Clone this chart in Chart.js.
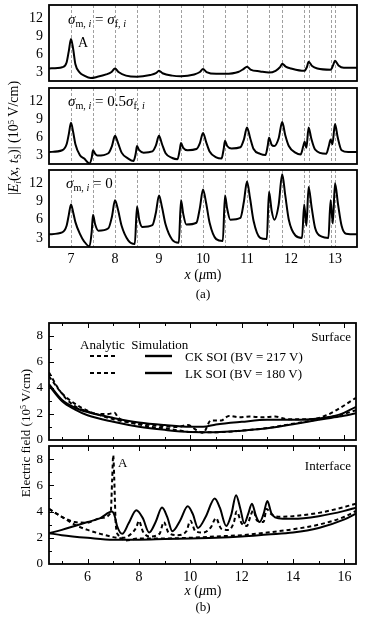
<!DOCTYPE html>
<html lang="en">
<head>
<meta charset="UTF-8" />
<title>Electric field profiles</title>
<script src="https://cdn.jsdelivr.net/npm/chart.js"></script>
<style>
  body { margin: 0; background: #fff; }
  #wrap { position: relative; width: 369px; height: 623px; overflow: hidden;
          font-family: 'Liberation Serif', 'Times New Roman', serif; color: #000; }
  canvas { position: absolute; left: 0; }
  .t { position: absolute; white-space: nowrap; line-height: 1; transform: translateY(-50%); }
  .c { position: absolute; white-space: nowrap; line-height: 1; transform: translate(-50%, -50%); }
  .r { position: absolute; white-space: nowrap; line-height: 1; transform: translate(-50%, -50%) rotate(-90deg); }
  sub { font-size: 68%; vertical-align: -0.3em; line-height: 0; }
  sup { font-size: 62%; vertical-align: 0.45em; line-height: 0; }
</style>
</head>
<body>
<div id="wrap">
  <canvas id="a1"></canvas>
  <canvas id="a2"></canvas>
  <canvas id="a3"></canvas>
  <canvas id="b1"></canvas>
  <canvas id="b2"></canvas>

  <!-- panel (a) texts -->
  <div class="r" style="left:14px; top:138px; font-size:14px;">|<i>E</i><sub><i>i</i></sub>(<i>x</i>, <i>t</i><sub>S</sub>)| (10<sup>5</sup> V/cm)</div>
  <div class="t" style="left:68px; top:19px; font-size:15px;"><i>σ</i><sub>m, <i>i</i></sub> = <i>σ</i><sub>f, <i>i</i></sub></div>
  <div class="t" style="left:78px; top:43px; font-size:14px;">A</div>
  <div class="t" style="left:68px; top:101px; font-size:15px;"><i>σ</i><sub>m, <i>i</i></sub> = 0.5<i>σ</i><sub>f, <i>i</i></sub></div>
  <div class="t" style="left:66px; top:183px; font-size:15px;"><i>σ</i><sub>m, <i>i</i></sub> = 0</div>
  <div class="c" style="left:203px; top:275px; font-size:14px;"><i>x</i> (<i>μ</i>m)</div>
  <div class="c" style="left:203px; top:293px; font-size:13px;">(a)</div>

  <!-- panel (b) texts -->
  <div class="r" style="left:25px; top:433px; font-size:13px;">Electric field (10<sup>5</sup> V/cm)</div>
  <div class="t" style="right:18px; top:336px; font-size:13px;">Surface</div>
  <div class="t" style="right:18px; top:465px; font-size:13px;">Interface</div>
  <div class="t" style="left:118px; top:462px; font-size:13px;">A</div>
  <div class="t" style="left:80px; top:344px; font-size:13px;">Analytic&nbsp; Simulation</div>
  <div class="t" style="left:185px; top:356px; font-size:13px;">CK SOI (BV = 217 V)</div>
  <div class="t" style="left:185px; top:373px; font-size:13px;">LK SOI (BV = 180 V)</div>
  <svg style="position:absolute; left:85px; top:348px;" width="95" height="32">
    <line x1="5" y1="8" x2="30" y2="8" stroke="#000" stroke-width="2.2" stroke-dasharray="4,3"/>
    <line x1="60" y1="8" x2="87" y2="8" stroke="#000" stroke-width="2.4"/>
    <line x1="5" y1="25" x2="30" y2="25" stroke="#000" stroke-width="2.2" stroke-dasharray="4,3"/>
    <line x1="60" y1="25" x2="87" y2="25" stroke="#000" stroke-width="2.4"/>
  </svg>
  <div class="c" style="left:203px; top:591px; font-size:14px;"><i>x</i> (<i>μ</i>m)</div>
  <div class="c" style="left:203px; top:606px; font-size:13px;">(b)</div>
</div>

<script>
// ---- panel (a): |E_i(x, t_S)| for three sigma_m settings ----
const aTicksX = [7, 8, 9, 10, 11, 12, 13];
const aTicksY = [3, 6, 9, 12];
const aGuides = [7, 7.5, 8, 8.5, 9, 9.5, 10, 10.5, 11, 11.5, 11.8, 12.3, 12.4, 12.9, 13.0];

const a1X = [6.5, 6.8, 6.9, 6.95, 7.0, 7.05, 7.1, 7.2, 7.3, 7.45, 7.6, 7.8, 7.92, 8.0, 8.08, 8.25, 8.5, 8.8, 8.93, 9.0, 9.08, 9.3, 9.5, 9.8, 9.93, 10.0, 10.08, 10.3, 10.5, 10.8, 10.92, 11.0, 11.08, 11.3, 11.5, 11.65, 11.75, 11.8, 11.88, 12.0, 12.3, 12.36, 12.4, 12.48, 12.6, 12.9, 12.96, 13.0, 13.08, 13.2, 13.5];
const a1Y = [3.6, 3.8, 4.6, 6.5, 8.5, 6.8, 4.3, 2.9, 2.4, 2.0, 2.2, 2.6, 3.0, 3.6, 3.0, 2.4, 2.2, 2.5, 2.8, 3.2, 2.8, 2.4, 2.3, 2.6, 3.0, 3.5, 3.0, 2.7, 2.7, 3.0, 3.5, 3.9, 3.4, 3.1, 2.9, 3.2, 3.8, 4.4, 3.9, 3.6, 3.2, 3.8, 4.7, 4.0, 3.6, 3.4, 4.2, 4.9, 4.1, 3.7, 3.7];

const a2X = [6.5, 6.8, 6.9, 6.95, 7.0, 7.05, 7.1, 7.2, 7.3, 7.42, 7.47, 7.5, 7.55, 7.6, 7.85, 7.93, 8.0, 8.07, 8.15, 8.3, 8.42, 8.47, 8.5, 8.55, 8.65, 8.85, 8.93, 9.0, 9.07, 9.15, 9.3, 9.42, 9.47, 9.5, 9.55, 9.65, 9.85, 9.93, 10.0, 10.07, 10.15, 10.3, 10.42, 10.47, 10.5, 10.55, 10.65, 10.85, 10.93, 11.0, 11.07, 11.15, 11.3, 11.42, 11.47, 11.5, 11.56, 11.62, 11.72, 11.8, 11.87, 11.95, 12.1, 12.22, 12.28, 12.31, 12.35, 12.4, 12.46, 12.55, 12.8, 12.86, 12.9, 12.94, 13.0, 13.06, 13.15, 13.3, 13.5];
const a2Y = [3.5, 3.8, 4.8, 6.5, 8.4, 6.8, 4.8, 3.0, 2.4, 1.6, 2.5, 3.8, 3.2, 2.9, 3.3, 4.5, 6.2, 5.0, 3.4, 2.4, 2.0, 3.2, 4.5, 3.8, 3.4, 3.6, 4.6, 6.2, 4.8, 3.3, 2.5, 2.3, 3.8, 5.0, 4.2, 3.8, 4.0, 5.0, 6.7, 5.2, 3.6, 2.6, 2.4, 4.0, 5.4, 4.5, 4.1, 4.3, 5.6, 7.6, 5.9, 4.0, 3.2, 3.0, 4.5, 5.9, 4.7, 4.5, 5.8, 8.5, 6.3, 4.5, 3.4, 3.1, 4.5, 5.2, 4.2, 7.6, 5.8, 3.9, 3.2, 4.5, 5.6, 4.8, 8.2, 6.0, 3.8, 3.5, 3.5];

const a3X = [6.5, 6.8, 6.9, 6.95, 7.0, 7.05, 7.1, 7.2, 7.3, 7.42, 7.47, 7.5, 7.55, 7.62, 7.85, 7.93, 8.0, 8.07, 8.15, 8.3, 8.45, 8.5, 8.55, 8.62, 8.85, 8.93, 9.0, 9.07, 9.15, 9.3, 9.45, 9.5, 9.55, 9.62, 9.85, 9.93, 10.0, 10.07, 10.15, 10.3, 10.45, 10.5, 10.55, 10.62, 10.85, 10.93, 11.0, 11.07, 11.15, 11.3, 11.45, 11.5, 11.56, 11.62, 11.72, 11.8, 11.87, 11.95, 12.1, 12.25, 12.3, 12.35, 12.4, 12.47, 12.55, 12.7, 12.85, 12.9, 12.95, 13.0, 13.07, 13.15, 13.25, 13.5];
const a3Y = [3.6, 3.9, 5.0, 6.8, 8.5, 7.2, 5.6, 3.7, 2.4, 1.6, 4.0, 6.8, 5.2, 4.2, 4.6, 6.5, 9.2, 7.6, 5.0, 2.6, 2.0, 8.2, 6.0, 4.8, 5.1, 7.2, 10.0, 8.0, 5.2, 2.7, 2.2, 9.2, 7.0, 5.2, 5.5, 8.0, 11.0, 8.8, 5.5, 2.8, 2.5, 10.0, 7.8, 6.0, 6.3, 9.0, 12.3, 9.5, 5.8, 3.0, 2.8, 10.6, 7.5, 6.0, 8.5, 13.5, 10.0, 6.0, 3.4, 3.0, 8.5, 5.0, 11.4, 8.0, 4.6, 3.2, 3.0, 9.2, 5.4, 12.0, 8.5, 5.0, 3.7, 3.6];

// ---- panel (b): analytic vs simulation, surface and interface ----
const bTicksX = [6, 8, 10, 12, 14, 16];
const bTicksY = [0, 2, 4, 6, 8];
const bMarksX = [5, 6, 7, 8, 9, 10, 11, 12, 13, 14, 15, 16];
const bMarksY = [1, 2, 3, 4, 5, 6, 7, 8];

const surfCkSimX = [4.5, 5, 5.5, 6, 7, 8, 9, 10, 10.5, 11, 12, 13, 14, 15, 15.8, 16.45];
const surfCkSimY = [4.3, 3.1, 2.5, 2.15, 1.7, 1.35, 1.15, 1.02, 1.02, 1.2, 1.4, 1.55, 1.55, 1.65, 1.95, 2.55];
const surfLkSimX = [4.5, 5, 5.5, 6, 7, 8, 9, 10, 11, 12, 13, 14, 15, 15.8, 16.45];
const surfLkSimY = [4.2, 3.0, 2.35, 1.9, 1.4, 1.02, 0.78, 0.62, 0.6, 0.72, 0.9, 1.22, 1.55, 1.8, 2.05];
const surfCkAnaX = [4.5, 4.85, 5.2, 5.6, 6, 6.4, 6.8, 7.05, 7.2, 7.8, 8.3, 9.0, 9.5, 9.9, 10.25, 10.5, 10.8, 11.2, 11.5, 11.9, 12.3, 12.8, 13.3, 13.8, 14.3, 14.7, 15.3, 15.9, 16.45];
const surfCkAnaY = [5.2, 4.0, 3.1, 2.5, 2.2, 2.0, 2.0, 2.1, 1.7, 1.3, 1.2, 1.05, 1.0, 1.15, 0.75, 0.55, 1.5, 1.5, 1.85, 1.75, 1.8, 1.75, 1.8, 1.6, 1.6, 1.6, 1.9, 2.55, 3.25];
const surfLkAnaX = [4.5, 5, 5.5, 6, 6.5, 7, 7.5, 8, 8.5, 9, 9.5, 10, 11, 12, 13, 14, 15, 15.8, 16.45];
const surfLkAnaY = [4.9, 3.6, 2.8, 2.25, 1.9, 1.6, 1.4, 1.2, 1.0, 0.9, 0.75, 0.62, 0.6, 0.72, 0.92, 1.25, 1.6, 1.9, 2.3];

const intCkSimX = [4.5, 5, 5.5, 6, 6.5, 6.95, 7.05, 7.15, 7.35, 7.6, 7.9, 8.15, 8.4, 8.65, 8.9, 9.1, 9.3, 9.6, 9.9, 10.1, 10.3, 10.6, 10.95, 11.15, 11.4, 11.6, 11.78, 11.95, 12.1, 12.25, 12.4, 12.55, 12.7, 12.85, 13.0, 13.15, 13.3, 13.6, 14, 15, 16, 16.45];
const intCkSimY = [2.35, 2.6, 2.9, 3.2, 3.5, 4.0, 3.7, 2.9, 2.3, 3.1, 4.1, 3.5, 2.4, 3.2, 4.3, 3.6, 2.5, 3.3, 4.4, 3.8, 2.75, 3.6, 5.0, 4.3, 2.9, 3.8, 5.25, 4.2, 3.1, 3.8, 4.6, 3.7, 3.2, 3.8, 4.8, 3.9, 3.55, 3.45, 3.45, 3.65, 4.05, 4.3];
const intLkSimX = [4.5, 5, 6, 7, 8, 9, 10, 11, 12, 13, 14, 15, 16, 16.45];
const intLkSimY = [2.35, 2.2, 2.0, 1.85, 1.85, 1.9, 1.95, 2.0, 2.1, 2.25, 2.4, 2.75, 3.4, 3.85];
const intCkAnaX = [4.5, 5, 5.5, 6, 6.5, 6.9, 6.96, 7.0, 7.04, 7.1, 7.2, 7.4, 7.7, 7.9, 8.0, 8.15, 8.4, 8.8, 8.97, 9.15, 9.5, 9.85, 10.0, 10.2, 10.5, 10.8, 11.0, 11.2, 11.5, 11.7, 11.8, 12.0, 12.2, 12.35, 12.45, 12.6, 12.85, 12.97, 13.15, 13.5, 14, 15, 16, 16.45];
const intCkAnaY = [4.2, 3.6, 3.2, 3.15, 3.5, 3.9, 6.5, 8.3, 6.5, 3.0, 2.2, 2.0, 2.3, 2.8, 3.3, 2.5, 2.1, 2.3, 3.2, 2.4, 2.2, 2.5, 3.3, 2.5, 2.4, 2.8, 3.5, 2.7, 2.6, 3.2, 4.0, 3.1, 2.9, 3.7, 4.1, 3.3, 3.2, 4.2, 3.8, 3.6, 3.65, 3.9, 4.35, 4.6];
const intLkAnaX = [4.5, 5, 5.5, 6, 6.5, 7, 7.3, 7.5, 8, 9, 10, 11, 12, 13, 14, 15, 16, 16.45];
const intLkAnaY = [4.2, 3.6, 3.0, 2.6, 2.3, 2.05, 1.95, 1.8, 1.95, 1.95, 2.0, 2.1, 2.2, 2.4, 2.65, 3.0, 3.6, 4.05];

Chart.defaults.font.family = "'Liberation Serif', 'Times New Roman', serif";
Chart.defaults.font.size = 14;
Chart.defaults.color = '#000';

function series(xs, ys, dashed) {
  return {
    data: xs.map((x, i) => ({ x: x, y: ys[i] })),
    borderColor: '#000',
    borderWidth: 2,
    borderDash: dashed ? [4, 3] : [],
    pointRadius: 0,
    cubicInterpolationMode: 'monotone',
    fill: false
  };
}

// frame box, dotted guide lines and inward tick marks
const frame = {
  id: 'frame',
  beforeDatasetsDraw(chart, args, opts) {
    if (!opts.guides) return;
    const { ctx, chartArea: a, scales: { x } } = chart;
    ctx.save();
    ctx.strokeStyle = '#a0a0a0';
    ctx.lineWidth = 1;
    ctx.setLineDash([3, 2]);
    opts.guides.forEach(v => {
      const px = Math.round(x.getPixelForValue(v)) + 0.5;
      ctx.beginPath();
      ctx.moveTo(px, a.top);
      ctx.lineTo(px, a.bottom);
      ctx.stroke();
    });
    ctx.restore();
  },
  afterDraw(chart, args, opts) {
    const { ctx, chartArea: a, scales: { x, y } } = chart;
    ctx.save();
    ctx.strokeStyle = '#000';
    ctx.lineWidth = 1;
    if (opts.marksX) {
      opts.marksX.forEach(v => {
        const px = Math.round(x.getPixelForValue(v)) + 0.5;
        const len = v % 2 === 0 ? 5 : 3;
        ctx.beginPath();
        ctx.moveTo(px, a.bottom); ctx.lineTo(px, a.bottom - len);
        ctx.moveTo(px, a.top); ctx.lineTo(px, a.top + len);
        ctx.stroke();
      });
    }
    if (opts.marksY) {
      opts.marksY.forEach(v => {
        const py = Math.round(y.getPixelForValue(v)) + 0.5;
        const len = v % 2 === 0 ? 5 : 3;
        ctx.beginPath();
        ctx.moveTo(a.left, py); ctx.lineTo(a.left + len, py);
        ctx.stroke();
      });
    }
    ctx.lineWidth = 1.8;
    ctx.strokeRect(a.left, a.top, a.right - a.left, a.bottom - a.top);
    ctx.restore();
  }
};

function build(id, p) {
  const cv = document.getElementById(id);
  const axisH = p.showX ? 24 : 0;
  const padTop = 16;
  const padBottom = p.showX ? 0 : 20;
  const canvasTop = p.top - padTop;
  cv.width = 369;
  cv.height = p.bottom - p.top + padTop + padBottom + axisH;
  cv.style.top = canvasTop + 'px';
  const chart = new Chart(cv, {
    type: 'line',
    data: { datasets: p.datasets },
    options: {
      responsive: false,
      devicePixelRatio: 1,
      animation: false,
      layout: { padding: { left: 0, right: 369 - p.right, top: padTop, bottom: padBottom } },
      plugins: {
        legend: { display: false },
        tooltip: { enabled: false },
        frame: { guides: p.guides, marksX: p.marksX, marksY: p.marksY }
      },
      scales: {
        x: {
          type: 'linear',
          min: p.xMin,
          max: p.xMax,
          display: true,
          grid: { display: false, drawTicks: false },
          border: { display: false },
          ticks: { display: p.showX, padding: p.xPad || 4, autoSkip: false, maxRotation: 0 },
          afterBuildTicks: s => { s.ticks = p.xTicks.map(v => ({ value: v })); },
          afterFit: s => { s.height = axisH; }
        },
        y: {
          min: p.yMin,
          max: p.yMax,
          grid: { display: false, drawTicks: false },
          border: { display: false },
          ticks: { padding: 6, font: { size: p.yFont || 14 } },
          afterBuildTicks: s => { s.ticks = p.yTicks.map(v => ({ value: v })); },
          afterFit: s => { s.width = 49; }
        }
      }
    },
    plugins: [frame]
  });
  // nudge the padding until the plot box sits where the reference has it
  for (let k = 0; k < 3; k++) {
    const a = chart.chartArea;
    const dTop = (p.top - canvasTop) - a.top;
    const dBottom = a.bottom - (p.bottom - canvasTop);
    if (Math.abs(dTop) < 0.5 && Math.abs(dBottom) < 0.5) break;
    const pad = chart.options.layout.padding;
    pad.top = pad.top + dTop;
    pad.bottom = Math.max(0, pad.bottom + dBottom);
    chart.update();
  }
}

const aCommon = { right: 357, xMin: 6.5, xMax: 13.5, xTicks: aTicksX, yMin: 1.5, yMax: 14.2, yTicks: aTicksY, guides: aGuides };
build('a1', Object.assign({}, aCommon, { top: 5, bottom: 81, showX: false, datasets: [series(a1X, a1Y)] }));
build('a2', Object.assign({}, aCommon, { top: 88, bottom: 164, showX: false, datasets: [series(a2X, a2Y)] }));
build('a3', Object.assign({}, aCommon, { top: 170, bottom: 247, showX: true, datasets: [series(a3X, a3Y)] }));

const bCommon = { right: 356, xMin: 4.5, xMax: 16.45, xTicks: bTicksX, yMin: 0, yMax: 9, yTicks: bTicksY, marksX: bMarksX, marksY: bMarksY, yFont: 13, xPad: 5 };
build('b1', Object.assign({}, bCommon, { top: 323, bottom: 440, showX: false, datasets: [
  series(surfCkAnaX, surfCkAnaY, true),
  series(surfLkAnaX, surfLkAnaY, true),
  series(surfCkSimX, surfCkSimY),
  series(surfLkSimX, surfLkSimY)
] }));
build('b2', Object.assign({}, bCommon, { top: 446, bottom: 564, showX: true, datasets: [
  series(intCkAnaX, intCkAnaY, true),
  series(intLkAnaX, intLkAnaY, true),
  series(intCkSimX, intCkSimY),
  series(intLkSimX, intLkSimY)
] }));
</script>
</body>
</html>
